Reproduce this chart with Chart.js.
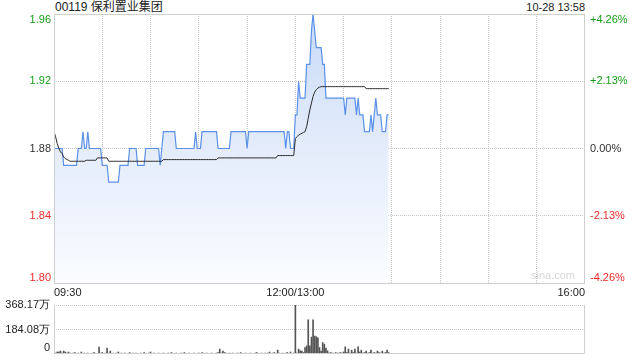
<!DOCTYPE html>
<html><head><meta charset="utf-8">
<script src="https://cdn.jsdelivr.net/npm/chart.js@4.4.0/dist/chart.umd.min.js"></script>
<style>
html,body{margin:0;padding:0;background:#fff;width:640px;height:360px;overflow:hidden}
#wrap{position:relative;width:640px;height:360px}
canvas{position:absolute;left:0}
#c1{top:0}
#c2{top:298px}
.t{position:absolute;font-family:"Liberation Sans","Noto Sans CJK SC",Arial,sans-serif;color:#222;white-space:nowrap;line-height:14px}
</style></head><body>
<div id="wrap">
<div class="t" style="left:55px;top:0px;font-size:12px;">00119 保利置业集团</div>
<div class="t" style="right:55px;top:0px;font-size:11px;">10-28 13:58</div>
<canvas id="c1" width="640" height="298"></canvas>
<canvas id="c2" width="640" height="62"></canvas>
</div>
<script>
// ---- data (one value per trading minute from 09:30; 12:00 and 13:00 share one slot) ----
const preClose = 1.88;
const priceTicks = [1.80, 1.84, 1.88, 1.92, 1.96];
const pctLabels = ["-4.26%", "-2.13%", "0.00%", "+2.13%", "+4.26%"];
const timeTicks = [0, 150, 330];
const timeLabels = ["09:30", "12:00/13:00", "16:00"];
const volTicks = [0, 184.085, 368.17];
const volLabels = ["0", "184.08万", "368.17万"];

const price = [
1.88,1.88,1.88,1.88,1.88,1.88,1.87,1.87,1.87,1.87,
1.87,1.87,1.87,1.87,1.87,1.88,1.88,1.88,1.89,1.88,
1.88,1.89,1.88,1.88,1.88,1.88,1.88,1.88,1.88,1.88,
1.87,1.87,1.87,1.87,1.86,1.86,1.86,1.86,1.86,1.86,
1.86,1.87,1.87,1.87,1.87,1.87,1.87,1.88,1.88,1.88,
1.88,1.88,1.87,1.87,1.87,1.87,1.87,1.88,1.88,1.88,
1.88,1.88,1.88,1.88,1.88,1.88,1.87,1.88,1.89,1.89,
1.89,1.89,1.89,1.89,1.89,1.89,1.88,1.88,1.88,1.88,
1.88,1.88,1.88,1.88,1.88,1.88,1.88,1.88,1.89,1.88,
1.88,1.88,1.89,1.89,1.89,1.89,1.89,1.89,1.89,1.89,
1.89,1.89,1.88,1.88,1.88,1.88,1.88,1.88,1.88,1.88,
1.89,1.89,1.89,1.89,1.89,1.89,1.89,1.89,1.89,1.89,
1.88,1.89,1.89,1.89,1.89,1.89,1.89,1.89,1.89,1.89,
1.89,1.89,1.89,1.89,1.89,1.89,1.89,1.89,1.89,1.89,
1.89,1.89,1.89,1.89,1.88,1.89,1.89,1.88,1.88,1.88,
1.90,1.90,1.92,1.91,1.91,1.91,1.91,1.93,1.93,1.93,
1.95,1.96,1.95,1.94,1.94,1.94,1.94,1.93,1.93,1.91,
1.91,1.91,1.91,1.91,1.91,1.91,1.91,1.91,1.91,1.91,
1.91,1.90,1.91,1.91,1.91,1.91,1.91,1.91,1.90,1.91,
1.90,1.90,1.90,1.89,1.89,1.89,1.89,1.90,1.89,1.90,
1.91,1.90,1.90,1.90,1.89,1.89,1.89,1.90,1.90
];

const avgPrice = [
1.890,1.887,1.883,1.880,1.878,1.877,1.875,1.874,1.8735,1.873,
1.8724,1.8724,1.8724,1.8724,1.8724,1.8724,1.8724,1.8724,1.8724,1.8724,
1.8730,1.8730,1.8730,1.8730,1.8730,1.8730,1.8730,1.8744,1.8744,1.8744,
1.8744,1.8744,1.8744,1.8744,1.8724,1.8724,1.8724,1.8724,1.8724,1.8724,
1.8724,1.8724,1.8724,1.8724,1.8724,1.8724,1.8724,1.8724,1.8724,1.8724,
1.8724,1.8724,1.8724,1.8724,1.8724,1.8724,1.8724,1.8724,1.8724,1.8724,
1.8724,1.8724,1.8724,1.8724,1.8724,1.8724,1.8724,1.8724,1.8734,1.8734,
1.8734,1.8734,1.8734,1.8734,1.8734,1.8734,1.8734,1.8734,1.8734,1.8734,
1.8734,1.8734,1.8734,1.8734,1.8734,1.8734,1.8734,1.8734,1.8734,1.8734,
1.8734,1.8734,1.8734,1.8734,1.8734,1.8734,1.8734,1.8734,1.8734,1.8734,
1.8734,1.8734,1.8744,1.8744,1.8744,1.8744,1.8744,1.8744,1.8744,1.8744,
1.8744,1.8744,1.8744,1.8744,1.8744,1.8744,1.8744,1.8744,1.8744,1.8744,
1.8744,1.8744,1.8744,1.8744,1.8744,1.8744,1.8744,1.8744,1.8744,1.8744,
1.8744,1.8744,1.8744,1.8744,1.8744,1.8744,1.8744,1.8744,1.8744,1.8758,
1.8758,1.8758,1.8758,1.8758,1.8758,1.8758,1.8758,1.8758,1.8758,1.8758,
1.886,1.887,1.888,1.8885,1.889,1.8895,1.890,1.893,1.898,1.903,
1.907,1.911,1.9135,1.915,1.916,1.9165,1.9168,1.9168,1.9168,1.9168,
1.9168,1.9168,1.9168,1.9168,1.9168,1.9168,1.9168,1.9168,1.9168,1.9168,
1.9168,1.9168,1.9168,1.9168,1.9168,1.9168,1.9168,1.9168,1.9168,1.9168,
1.9168,1.9168,1.9168,1.9168,1.9156,1.9156,1.9156,1.9156,1.9156,1.9156,
1.9156,1.9156,1.9156,1.9156,1.9156,1.9156,1.9156,1.9156,1.9156
];

const volume = [
22,7,15,15,22,7,22,15,7,15,
7,4,7,11,4,7,4,15,4,7,
4,7,4,4,7,11,4,4,52,7,
11,4,7,44,7,22,4,7,4,7,
15,4,7,4,7,4,4,11,4,7,
4,7,4,4,7,4,11,4,4,7,
15,4,7,4,4,7,4,4,7,4,
4,7,4,11,4,4,7,4,4,7,
4,11,4,4,7,4,4,7,4,4,
7,4,11,4,4,7,4,4,7,4,
4,7,11,37,7,22,11,7,4,7,
4,7,4,4,7,4,11,4,4,7,
4,4,7,4,4,7,11,4,4,7,
4,7,4,7,15,4,7,11,4,29,
7,4,7,4,7,11,4,15,4,7,
368.17,7,37,24,22,11,49,61,257,61,
127,257,135,130,122,49,22,86,74,44,
24,7,11,7,4,11,7,7,11,7,
15,54,11,37,7,29,11,37,7,54,
15,29,7,11,22,7,11,29,7,11,
7,22,11,7,22,7,11,29,11
];

// ---- drawing ----
const FONT = '"Liberation Sans", Arial, sans-serif';
const GREEN = '#15a015', RED = '#f02a2a', DARK = '#333333';
const GRID = '#c6c6c6', FRAME = '#cfcfcf';

function colorFor(v) {
  if (Math.abs(v - preClose) < 1e-9) return DARK;
  return v > preClose ? GREEN : RED;
}

const priceLabelPlugin = {
  id: 'priceLabels',
  afterDraw(chart) {
    const ctx = chart.ctx, a = chart.chartArea;
    const ys = chart.scales.y, xs = chart.scales.x;
    ctx.save();
    ctx.strokeStyle = FRAME; ctx.lineWidth = 1;
    ctx.strokeRect(Math.round(a.left) + 0.5, Math.round(a.top) + 0.5,
                   Math.round(a.right - a.left) - 1, Math.round(a.bottom - a.top));
    ctx.font = '11px ' + FONT;
    ctx.textBaseline = 'middle';
    priceTicks.forEach((v, i) => {
      let y = ys.getPixelForValue(v);
      y = Math.min(Math.max(y, a.top + 6), a.bottom - 5);
      ctx.fillStyle = colorFor(v);
      ctx.textAlign = 'right';
      ctx.fillText(v.toFixed(2), a.left - 3, y);
      ctx.textAlign = 'left';
      ctx.fillText(pctLabels[i], a.right + 5, y);
    });
    ctx.fillStyle = '#222';
    timeTicks.forEach((t, i) => {
      const x = xs.getPixelForValue(t);
      ctx.textAlign = i === 0 ? 'left' : (i === timeTicks.length - 1 ? 'right' : 'center');
      ctx.fillText(timeLabels[i], x, a.bottom + 10);
    });
    ctx.fillStyle = '#d6d6d6';
    ctx.textAlign = 'right';
    ctx.fillText('sina.com', a.right - 10, a.bottom - 7);
    ctx.restore();
  }
};

const edgeGrid = (vals) => (c) => {
  const v = c.tick ? c.tick.value : null;
  if (v === vals[0] || v === vals[vals.length - 1]) return 'rgba(0,0,0,0)';
  return GRID;
};

const xTickVals = [0,30,60,90,120,150,180,210,240,270,300,330];

new Chart(document.getElementById('c1'), {
  type: 'line',
  data: {
    datasets: [
      {
        label: '均价',
        data: avgPrice.map((v, i) => ({x: i, y: v})),
        borderColor: '#2a2a2a', borderWidth: 1, pointRadius: 0, fill: false,
        tension: 0, order: 0
      },
      {
        label: '价格',
        data: price.map((v, i) => ({x: i, y: v})),
        borderColor: '#5b90ea', borderWidth: 1.2, pointRadius: 0, tension: 0,
        fill: 'start', order: 1,
        backgroundColor: (c) => {
          const a = c.chart.chartArea;
          if (!a) return 'rgba(210,225,248,0.6)';
          const g = c.chart.ctx.createLinearGradient(0, a.top, 0, a.bottom);
          g.addColorStop(0, '#c8dbf7');
          g.addColorStop(0.5, '#e4ecfb');
          g.addColorStop(1, '#fafcff');
          return g;
        }
      }
    ]
  },
  options: {
    responsive: false, animation: false,
    layout: {padding: {top: 14, left: 0, right: 0, bottom: 0}},
    plugins: {legend: {display: false}, tooltip: {enabled: false}, title: {display: false}},
    scales: {
      x: {
        type: 'linear', min: 0, max: 330,
        afterBuildTicks(s) { s.ticks = xTickVals.map(v => ({value: v})); },
        ticks: {display: false},
        grid: {color: edgeGrid(xTickVals), drawTicks: false, lineWidth: 1},
        border: {display: false, dash: [1, 1]},
        afterFit(s) { s.height = 15; }
      },
      y: {
        position: 'left', min: 1.80, max: 1.96,
        afterBuildTicks(s) { s.ticks = priceTicks.map(v => ({value: v})); },
        ticks: {display: false},
        grid: {color: edgeGrid(priceTicks), drawTicks: false, lineWidth: 1},
        border: {display: false, dash: [1, 1]},
        afterFit(s) { s.width = 54; }
      },
      y2: {
        position: 'right', min: 1.80, max: 1.96,
        ticks: {display: false}, grid: {display: false}, border: {display: false},
        afterFit(s) { s.width = 55; }
      }
    }
  },
  plugins: [priceLabelPlugin]
});

const volLabelPlugin = {
  id: 'volLabels',
  afterDraw(chart) {
    const ctx = chart.ctx, a = chart.chartArea, ys = chart.scales.y;
    ctx.save();
    ctx.strokeStyle = FRAME; ctx.lineWidth = 1;
    ctx.beginPath();
    const L = Math.round(a.left) + 0.5, R = Math.round(a.right) - 0.5, B = Math.round(a.bottom) - 0.5, T = Math.round(a.top) + 0.5;
    ctx.moveTo(L, T); ctx.lineTo(L, B); ctx.lineTo(R, B); ctx.lineTo(R, T);
    ctx.stroke();
    ctx.font = '11px ' + FONT;
    ctx.textBaseline = 'middle';
    ctx.textAlign = 'right';
    ctx.fillStyle = '#222';
    volTicks.forEach((v, i) => {
      let y = ys.getPixelForValue(v);
      y = Math.min(y, a.bottom - 6);
      ctx.fillText(volLabels[i], a.left - 4, y);
    });
    ctx.restore();
  }
};

new Chart(document.getElementById('c2'), {
  type: 'bar',
  data: {
    datasets: [{
      label: '成交量',
      data: volume.map((v, i) => ({x: i, y: v})),
      backgroundColor: '#555555', borderWidth: 0,
      barThickness: 1, grouped: false
    }]
  },
  options: {
    responsive: false, animation: false,
    layout: {padding: {top: 7, right: 55, left: 0, bottom: 0}},
    plugins: {legend: {display: false}, tooltip: {enabled: false}},
    scales: {
      x: {
        type: 'linear', min: 0, max: 330, offset: false,
        ticks: {display: false}, grid: {display: false}, border: {display: false},
        afterFit(s) { s.height = 6; }
      },
      y: {
        min: 0, max: 368.17,
        afterBuildTicks(s) { s.ticks = volTicks.map(v => ({value: v})); },
        ticks: {display: false},
        grid: {color: (c) => (c.tick && c.tick.value === 0) ? 'rgba(0,0,0,0)' : GRID, drawTicks: false},
        border: {display: false, dash: [1, 1]},
        afterFit(s) { s.width = 54; }
      }
    }
  },
  plugins: [volLabelPlugin]
});
</script>
</body></html>
